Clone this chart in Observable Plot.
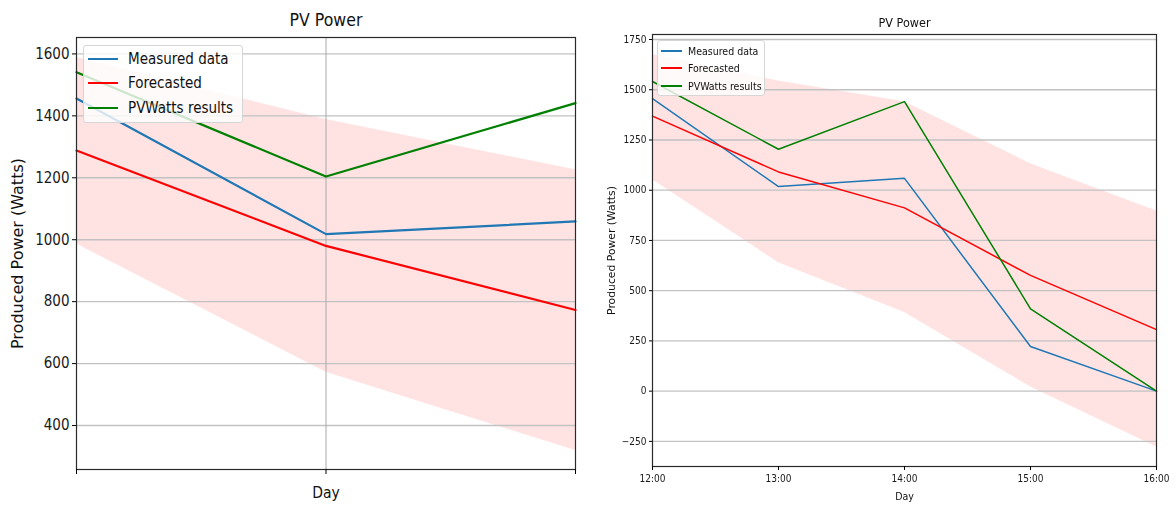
<!DOCTYPE html>
<html>
<head>
<meta charset="utf-8">
<script src="https://cdn.jsdelivr.net/npm/d3@7"></script>
<script src="https://cdn.jsdelivr.net/npm/@observablehq/plot@0.6"></script>
<style>
  html, body { margin: 0; padding: 0; background: #fff; }
  #wrap { position: relative; width: 1176px; height: 505px; overflow: hidden;
          font-family: "DejaVu Sans Condensed", "DejaVu Sans", sans-serif; }
  .panel { position: absolute; top: 0; }
  .panel svg { display: block; }
  .ylab, .ylab text { font-stretch: normal !important; font-family: "DejaVu Sans", sans-serif !important; }
  .legend { position: absolute; background: rgba(255,255,255,0.8); border: 1px solid #d6d6d6;
            border-radius: 3px; box-sizing: border-box; color: #111; }
  .legend .row { position: absolute; display: flex; align-items: center; white-space: nowrap; }
  .legend .sw { display: inline-block; }
</style>
</head>
<body>
<div id="wrap"></div>
<script>
// Hourly PV output, 12:00 – 16:00
const hours = [12, 13, 14, 15, 16];
const measured = [1456, 1018, 1059, 222, 0];
const pvwatts = [1541, 1204, 1441, 410, 0];

// Day-ahead run (first three hours)
const forecastDay = [1288, 980, 773];
const upperDay = [1589, 1388, 1226];
const lowerDay = [986, 572, 319];

// Hourly run (all five hours)
const forecastHour = [1369, 1091, 912, 576, 306];
const upperHour = [1675, 1543, 1440, 1132, 897];
const lowerHour = [1052, 639, 392, 21, -278];

const seriesNames = ["Measured data", "Forecasted", "PVWatts results"];
const seriesColors = ["#1f77b4", "#ff0000", "#008000"];

const ticksDay = [400, 600, 800, 1000, 1200, 1400, 1600];
const ticksHour = [-250, 0, 250, 500, 750, 1000, 1250, 1500, 1750];

const FONT = "'DejaVu Sans Condensed', 'DejaVu Sans', sans-serif";
const fmtNum = d => (d < 0 ? "\u2212" + Math.abs(d) : String(d));

function rows(n, fc, lo, hi) {
  return hours.slice(0, n).map((h, i) => ({
    hour: h, measured: measured[i], pvwatts: pvwatts[i],
    forecast: fc[i], lo: lo[i], hi: hi[i]
  }));
}

function panel(opts) {
  const data = rows(opts.n, opts.fc, opts.lo, opts.hi);
  const lw = opts.lineWidth;
  const marks = [
    Plot.areaY(data, {x: "hour", y1: "lo", y2: "hi", fill: "red", fillOpacity: 0.11}),
    Plot.gridY(opts.yTicks, {stroke: "#c2c2c2", strokeOpacity: 1, strokeWidth: opts.gridWidth})
  ];
  if (opts.vgrid) marks.push(Plot.gridX(opts.vgrid, {stroke: "#a8a8a8", strokeOpacity: 1, strokeWidth: 1}));
  marks.push(
    Plot.lineY(data, {x: "hour", y: "measured", stroke: seriesColors[0], strokeWidth: lw}),
    Plot.lineY(data, {x: "hour", y: "forecast", stroke: seriesColors[1], strokeWidth: lw}),
    Plot.lineY(data, {x: "hour", y: "pvwatts", stroke: seriesColors[2], strokeWidth: lw}),
    Plot.frame({stroke: "#2a2a2a", strokeWidth: 1.2}),
    Plot.axisY(opts.yTicks, {tickSize: opts.tickSize, tickPadding: 3, fontSize: opts.tickFont, label: null,
      tickFormat: fmtNum, fill: "#1a1a1a"}),
    Plot.axisX(data.map(d => d.hour), {tickSize: opts.tickSize + 1, tickPadding: 4, fontSize: opts.tickFont,
      tickFormat: opts.xFormat, label: null, fill: "#1a1a1a"}),
    Plot.text(["PV Power"], {frameAnchor: "top", lineAnchor: "middle", dy: opts.titleDy,
      fontSize: opts.titleFont, fill: "#111"}),
    Plot.text(["Day"], {frameAnchor: "bottom", lineAnchor: "middle", dy: opts.dayDy,
      fontSize: opts.labelFont, fill: "#111"}),
    Plot.text(["Produced Power (Watts)"], {frameAnchor: "left", textAnchor: "middle", lineAnchor: "middle",
      dx: opts.ylabDx, rotate: -90, fontSize: opts.ylabFont, fontFamily: "'DejaVu Sans', sans-serif",
      fill: "#111", className: "ylab"})
  );
  return Plot.plot({
    width: opts.width, height: 505,
    marginLeft: opts.ml, marginRight: opts.mr, marginTop: opts.mt, marginBottom: opts.mb,
    style: {fontFamily: FONT, background: "transparent", overflow: "visible"},
    x: {domain: [12, hours[opts.n - 1]]},
    y: {domain: opts.yDomain},
    marks
  });
}

function legend(box) {
  const el = document.createElement("div");
  el.className = "legend";
  Object.assign(el.style, {left: box.x + "px", top: box.y + "px", width: box.w + "px", height: box.h + "px",
    fontSize: box.font + "px"});
  seriesNames.forEach((name, i) => {
    const r = document.createElement("div");
    r.className = "row";
    r.style.left = box.swX + "px";
    r.style.top = (box.rowY[i] - box.font * 0.6) + "px";
    r.style.height = (box.font * 1.2) + "px";
    const sw = document.createElement("span");
    sw.className = "sw";
    Object.assign(sw.style, {width: box.swW + "px", height: box.lw + "px", background: seriesColors[i],
      marginRight: box.gap + "px"});
    r.appendChild(sw);
    r.appendChild(document.createTextNode(name));
    el.appendChild(r);
  });
  return el;
}

const wrap = document.getElementById("wrap");

// Left: day-ahead comparison
const left = document.createElement("div");
left.className = "panel";
left.style.left = "0px";
left.appendChild(panel({
  n: 3, fc: forecastDay, lo: lowerDay, hi: upperDay,
  width: 590, ml: 76, mr: 15, mt: 37, mb: 36,
  yDomain: [258, 1653], yTicks: ticksDay, vgrid: [13],
  xFormat: () => "", lineWidth: 2.2, gridWidth: 1.4, tickSize: 4,
  tickFont: 15, titleFont: 17.5, titleDy: -17, labelFont: 15.5, dayDy: 24,
  ylabFont: 16, ylabDx: -59
}));
wrap.appendChild(left);
wrap.appendChild(legend({x: 83, y: 45, w: 160, h: 78, font: 15, swX: 4, swW: 30, lw: 2.2, gap: 10,
  rowY: [13, 37, 62]}));

// Right: hourly comparison
const right = document.createElement("div");
right.className = "panel";
right.style.left = "590px";
right.style.filter = "blur(0.35px)";
right.appendChild(panel({
  n: 5, fc: forecastHour, lo: lowerHour, hi: upperHour,
  width: 586, ml: 62, mr: 20, mt: 34, mb: 39,
  yDomain: [-375, 1775], yTicks: ticksHour, vgrid: null,
  xFormat: d => `${d}:00`, lineWidth: 1.5, gridWidth: 1.3, tickSize: 3,
  tickFont: 10, titleFont: 12.5, titleDy: -11.5, labelFont: 10.5, dayDy: 30,
  ylabFont: 10.8, ylabDx: -41
}));
wrap.appendChild(right);
const lg2 = legend({x: 657, y: 40, w: 108, h: 56, font: 10.5, swX: 3, swW: 21, lw: 1.6, gap: 6,
  rowY: [10, 27, 45]});
lg2.style.filter = "blur(0.35px)";
wrap.appendChild(lg2);
</script>
</body>
</html>
